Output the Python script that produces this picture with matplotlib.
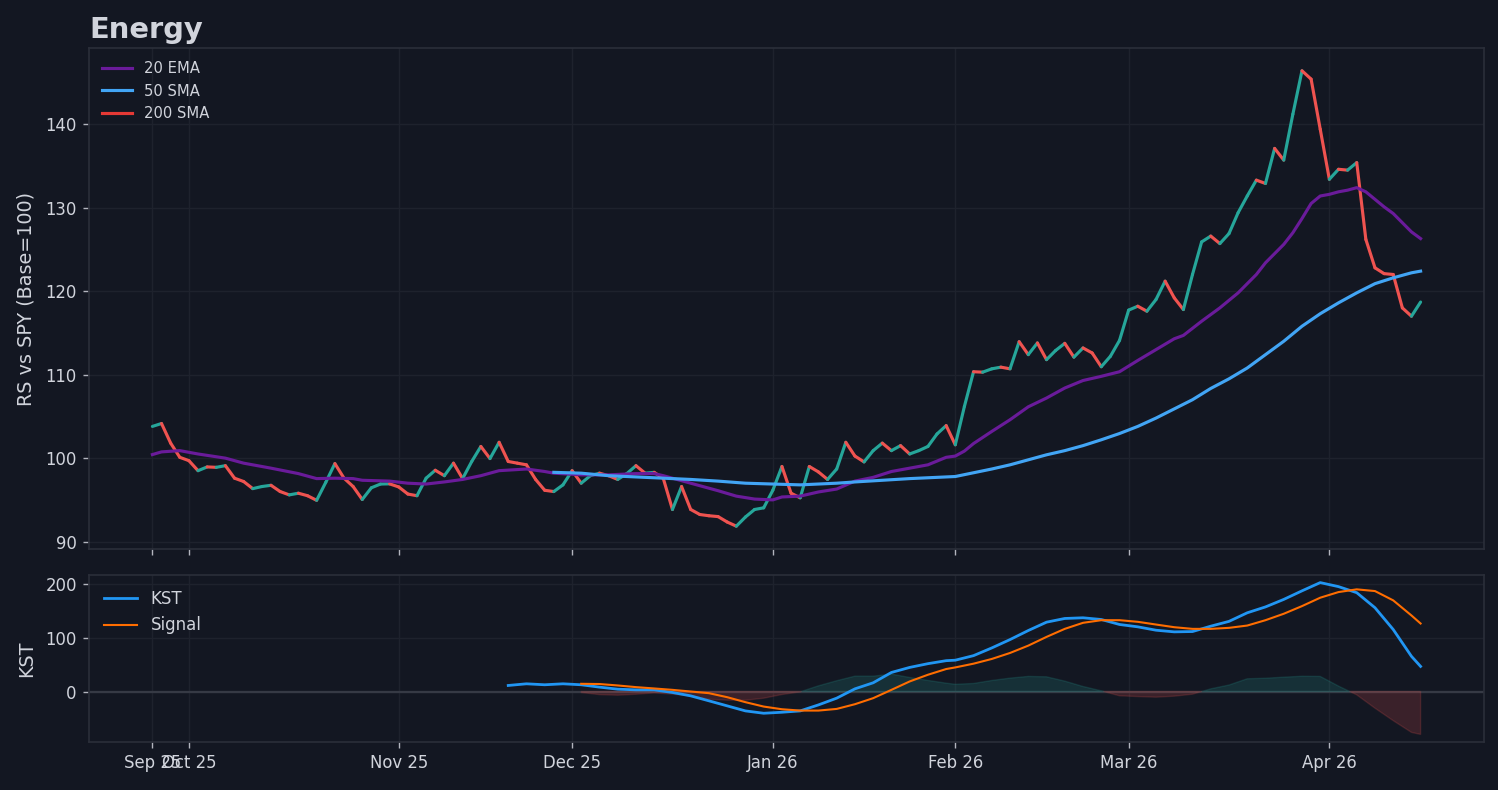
import numpy as np
import matplotlib
matplotlib.use('Agg')
import matplotlib.pyplot as plt
from matplotlib.collections import LineCollection

# RS vs SPY (base 100), one value per trading day, 25 Sep 2025 -> 15 Apr 2026
rs = [103.8, 104.15, 101.8, 100.1, 99.7, 98.5, 98.95, 98.9, 99.1, 97.6,
      97.2, 96.35, 96.6, 96.75, 96.0, 95.6, 95.8, 95.5, 94.95, 97.1,
      99.35, 97.6, 96.6, 95.05, 96.45, 96.9, 96.92, 96.55, 95.7, 95.5,
      97.6, 98.55, 97.9, 99.4, 97.55, 99.6, 101.4, 99.95, 101.9, 99.6,
      99.4, 99.2, 97.45, 96.15, 96.0, 96.8, 98.5, 97.0, 97.9, 98.2,
      97.9, 97.45, 98.15, 99.1, 98.2, 98.3, 97.55, 93.85, 96.6, 93.85,
      93.25, 93.1, 93.0, 92.35, 91.85, 92.95, 93.85, 94.05, 96.15, 99.0,
      95.8, 95.25, 99.0, 98.35, 97.45, 98.7, 101.9, 100.25, 99.55, 100.9,
      101.8, 100.9, 101.5, 100.5, 100.9, 101.4, 102.9, 103.9, 101.6, 106.2,
      110.35, 110.3, 110.7, 110.9, 110.7, 113.95, 112.4, 113.8, 111.8, 112.9,
      113.75, 112.1, 113.2, 112.6, 110.95, 112.2, 114.1, 117.73, 118.2, 117.6,
      119.0, 121.2, 119.2, 117.8, 122.0, 125.9, 126.6, 125.7, 126.9, 129.4,
      131.4, 133.3, 132.9, 137.1, 135.7, 141.2, 146.4, 145.4, 139.4, 133.4,
      134.6, 134.5, 135.4, 126.2, 122.8, 122.1, 122.0, 118.0, 117.0, 118.7]

# moving averages (day index, value)
ema20_idx = [0, 1, 3, 5, 8, 10, 13, 16, 18, 20, 22, 23, 26, 28, 30, 32, 34, 36, 38,
             41, 43, 44, 47, 50, 53, 55, 56, 58, 60, 62, 64, 66, 68, 69, 71, 73,
             75, 77, 79, 81, 83, 85, 87, 88, 89, 90, 92, 94, 96, 98, 100, 102,
             104, 106, 108, 110, 112, 113, 115, 117, 119, 121, 122, 124, 125,
             126, 127, 128, 129, 130, 131, 132, 133, 134, 135, 136, 137, 138, 139]
ema20 = [100.43, 100.75, 100.9, 100.5, 100.0, 99.4, 98.8, 98.15, 97.55, 97.6, 97.55,
         97.35, 97.25, 97.0, 96.9, 97.15, 97.45, 97.9, 98.5, 98.7, 98.4, 98.2, 98.0,
         98.0, 98.15, 98.15, 97.9, 97.3, 96.7, 96.1, 95.45, 95.1, 95.0, 95.35, 95.45,
         95.95, 96.3, 97.25, 97.7, 98.4, 98.8, 99.2, 100.1, 100.25, 100.85, 101.75,
         103.2, 104.6, 106.15, 107.2, 108.4, 109.3, 109.8, 110.35, 111.7, 113.0,
         114.3, 114.7, 116.4, 118.0, 119.8, 122.0, 123.4, 125.6, 127.0, 128.7, 130.5,
         131.4, 131.6, 131.9, 132.1, 132.4, 131.9, 131.0, 130.1, 129.3, 128.2, 127.1,
         126.3]

sma50_idx = [44, 47, 50, 53, 56, 59, 62, 65, 68, 71, 73, 75, 77, 80, 83, 86, 88, 90,
             92, 94, 96, 98, 100, 102, 104, 106, 108, 110, 112, 114, 116, 118, 120,
             122, 124, 126, 128, 130, 132, 134, 136, 138, 139]
sma50 = [98.3, 98.2, 97.9, 97.75, 97.6, 97.45, 97.25, 97.0, 96.9, 96.8, 96.9, 97.0,
         97.15, 97.35, 97.55, 97.7, 97.8, 98.25, 98.7, 99.2, 99.8, 100.4, 100.9,
         101.5, 102.2, 102.95, 103.8, 104.8, 105.9, 107.0, 108.35, 109.5, 110.8,
         112.4, 114.0, 115.8, 117.3, 118.6, 119.8, 120.9, 121.6, 122.2, 122.4]

# not enough history for the 200 SMA
sma200_idx = []
sma200 = []

# KST and its signal line
kst_idx = [39, 41, 43, 45, 47, 49, 51, 53, 55, 57, 59, 61, 63, 65, 67, 69, 71, 73,
           75, 77, 79, 81, 83, 85, 87, 88, 90, 92, 94, 96, 98, 100, 102, 104, 106,
           108, 110, 112, 114, 116, 118, 120, 122, 124, 126, 128, 130, 132, 134,
           136, 138, 139]
kst = [11.3, 14.4, 12.6, 14.4, 12.6, 8.2, 4.4, 3.1, 3.1, -1.8, -8.1, -17.4, -26.8,
       -36.2, -40.6, -38.7, -36.2, -25.0, -12.4, 5.0, 16.3, 35.6, 45.0, 52.0, 57.6,
       58.5, 67.0, 81.4, 97.0, 113.9, 129.5, 136.4, 137.7, 134.5, 125.2, 120.8,
       114.5, 111.4, 112.0, 122.0, 131.0, 147.0, 158.0, 172.0, 188.0, 203.4, 195.9,
       184.6, 156.5, 115.8, 65.7, 46.9]
signal = [14.4, 14.0, 11.3, 8.2, 5.7, 3.1, 0.0, -3.1, -10.6, -19.9, -28.1, -33.1,
          -35.6, -35.6, -32.5, -23.7, -12.4, 3.1, 18.8, 31.3, 42.0, 45.0, 52.0, 60.8,
          72.0, 85.7, 102.0, 117.0, 128.3, 133.2, 133.2, 130.2, 125.1, 120.1, 117.0,
          117.0, 118.9, 123.2, 133.2, 145.2, 159.5, 175.2, 185.7, 190.8, 187.6, 170.2,
          142.0, 127.0]
signal_idx = kst_idx[4:]

# first trading day of each month
tick_idx = [0, 4, 27, 46, 68, 88, 107, 129]
tick_labels = ['Sep 25', 'Oct 25', 'Nov 25', 'Dec 25', 'Jan 26', 'Feb 26', 'Mar 26', 'Apr 26']

BG = '#131722'
GRID = '#1e222d'
SPINE = '#2a2e39'
TEXT = '#d1d4dc'
UP = '#26a69a'
DOWN = '#ef5350'

fig, (ax1, ax2) = plt.subplots(2, 1, sharex=True, figsize=(11.984, 6.32), dpi=125,
                               gridspec_kw={'height_ratios': [3, 1]})
fig.patch.set_facecolor(BG)
fig.subplots_adjust(left=89/1498, right=1484/1498, top=1-48/790, bottom=1-742/790,
                    hspace=0.078)

# price line, green on up days and red on down days
x = np.arange(len(rs))
y = np.array(rs)
pts = np.column_stack([x, y]).reshape(-1, 1, 2)
segs = np.concatenate([pts[:-1], pts[1:]], axis=1)
cols = [UP if y[i + 1] >= y[i] else DOWN for i in range(len(y) - 1)]
lc = LineCollection(segs, colors=cols, linewidths=1.8, capstyle='round', joinstyle='round')
ax1.add_collection(lc)

ax1.plot(ema20_idx, ema20, color='#6a1b9a', lw=1.8, label='20 EMA')
ax1.plot(sma50_idx, sma50, color='#42a5f5', lw=1.8, label='50 SMA')
ax1.plot(sma200_idx, sma200, color='#e53935', lw=1.8, label='200 SMA')
ax1.autoscale_view()

ax1.set_title('Energy', loc='left', fontsize=16.7, fontweight='bold', color=TEXT)
ax1.set_ylabel('RS vs SPY (Base=100)', fontsize=11, color=TEXT, labelpad=5.5)
leg1 = ax1.legend(loc='upper left', fontsize=8.5, frameon=False)
for t in leg1.get_texts():
    t.set_color(TEXT)

# KST panel
kst_a = np.array(kst)
sig_a = np.array(signal)
hist = kst_a[4:] - sig_a
ax2.axhline(0, color='#363a45', lw=1.3, zorder=1)
ax2.fill_between(signal_idx, hist, 0, where=hist >= 0, interpolate=True,
                 color=UP, alpha=0.18, lw=0.8)
ax2.fill_between(signal_idx, hist, 0, where=hist < 0, interpolate=True,
                 color=DOWN, alpha=0.18, lw=0.8)
ax2.plot(kst_idx, kst, color='#2196f3', lw=1.6, label='KST')
ax2.plot(signal_idx, signal, color='#ff6d00', lw=1.2, label='Signal')
ax2.set_ylabel('KST', fontsize=11, color=TEXT, labelpad=5.5)
leg2 = ax2.legend(loc='upper left', fontsize=9.6, frameon=False)
for t in leg2.get_texts():
    t.set_color(TEXT)

ax2.set_xticks(tick_idx)
ax2.set_xticklabels(tick_labels)

for ax in (ax1, ax2):
    ax.set_facecolor(BG)
    ax.grid(True, color=GRID, lw=0.8)
    ax.set_axisbelow(True)
    for s in ax.spines.values():
        s.set_color(SPINE)
        s.set_linewidth(1.0)
    ax.tick_params(colors='#b2b5be', labelcolor=TEXT, labelsize=9.5)

fig.savefig('out.png', dpi=125, facecolor=BG)
